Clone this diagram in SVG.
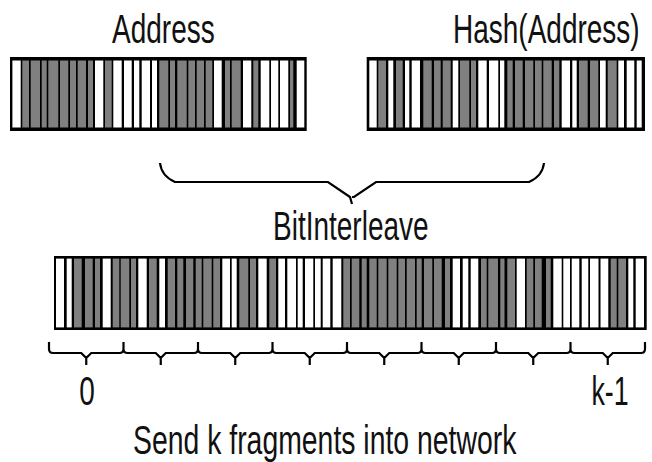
<svg xmlns="http://www.w3.org/2000/svg" width="652" height="462" viewBox="0 0 652 462">
  <style>
    .frame { fill: #000; }
    .w { fill: #fff; }
    .g { fill: #808080; }
    .lbl { font-family: "Liberation Sans", Arial, sans-serif; font-size: 40px; fill: #111; }
    .brace { fill: none; stroke: #000; stroke-width: 2.2; stroke-linejoin: miter; stroke-linecap: butt; }
  </style>
  <rect width="652" height="462" fill="#fff"/>

  <!-- source address bits -->
  <g id="address">
    <text class="lbl" transform="matrix(0.7 0 0 1 112 43)">Address</text>
    <rect class="frame" x="10" y="57" width="296.7" height="74"/>
    <g transform="translate(0,60.5)">
      <rect class="w" x="12.4" width="8.3" height="67"/>
      <rect class="g" x="22.3" width="6.7" height="67"/>
      <rect class="g" x="30.7" width="9.3" height="67"/>
      <rect class="g" x="41.7" width="5" height="67"/>
      <rect class="g" x="48.3" width="10" height="67"/>
      <rect class="g" x="60" width="8.3" height="67"/>
      <rect class="g" x="70" width="6" height="67"/>
      <rect class="g" x="77.7" width="8.3" height="67"/>
      <rect class="g" x="88" width="5" height="67"/>
      <rect class="w" x="95" width="8.3" height="67"/>
      <rect class="g" x="105" width="6.7" height="67"/>
      <rect class="w" x="113.3" width="8.4" height="67"/>
      <rect class="w" x="124" width="7.7" height="67"/>
      <rect class="w" x="134" width="5.3" height="67"/>
      <rect class="w" x="141.7" width="8.3" height="67"/>
      <rect class="w" x="152" width="5" height="67"/>
      <rect class="g" x="159.3" width="9" height="67"/>
      <rect class="g" x="170" width="5" height="67"/>
      <rect class="g" x="177.3" width="9.4" height="67"/>
      <rect class="g" x="188.3" width="6.7" height="67"/>
      <rect class="g" x="196.7" width="7.3" height="67"/>
      <rect class="g" x="205.7" width="6.6" height="67"/>
      <rect class="w" x="214" width="7.7" height="67"/>
      <rect class="g" x="225" width="5" height="67"/>
      <rect class="g" x="231.7" width="9" height="67"/>
      <rect class="w" x="243" width="8.3" height="67"/>
      <rect class="g" x="253.3" width="5" height="67"/>
      <rect class="w" x="260.7" width="8.6" height="67"/>
      <rect class="w" x="271" width="7.3" height="67"/>
      <rect class="w" x="280" width="8.3" height="67"/>
      <rect class="g" x="290" width="3.3" height="67"/>
      <rect class="w" x="296.7" width="7.6" height="67"/>
    </g>
  </g>

  <!-- hashed address bits -->
  <g id="hash">
    <text class="lbl" transform="matrix(0.7 0 0 1 453 43)">Hash(Address)</text>
    <rect class="frame" x="366.7" y="57" width="278.3" height="74"/>
    <g transform="translate(0,60.5)">
      <rect class="w" x="369.3" width="7.4" height="67"/>
      <rect class="g" x="378.3" width="7.7" height="67"/>
      <rect class="w" x="388.3" width="5" height="67"/>
      <rect class="g" x="396" width="6.7" height="67"/>
      <rect class="w" x="405" width="4.3" height="67"/>
      <rect class="w" x="411.7" width="8.3" height="67"/>
      <rect class="g" x="423.3" width="8.4" height="67"/>
      <rect class="g" x="434" width="6.7" height="67"/>
      <rect class="g" x="442.7" width="8" height="67"/>
      <rect class="w" x="452.7" width="5.6" height="67"/>
      <rect class="g" x="460" width="9.3" height="67"/>
      <rect class="g" x="471" width="5" height="67"/>
      <rect class="w" x="478.3" width="8.4" height="67"/>
      <rect class="w" x="489" width="9.3" height="67"/>
      <rect class="w" x="500" width="4.3" height="67"/>
      <rect class="g" x="507.3" width="5.4" height="67"/>
      <rect class="g" x="515" width="7.7" height="67"/>
      <rect class="g" x="525" width="8.3" height="67"/>
      <rect class="g" x="535" width="6.7" height="67"/>
      <rect class="g" x="543.3" width="8.4" height="67"/>
      <rect class="g" x="554" width="5.3" height="67"/>
      <rect class="w" x="561.7" width="8.3" height="67"/>
      <rect class="w" x="572.3" width="4.4" height="67"/>
      <rect class="g" x="579" width="8.7" height="67"/>
      <rect class="g" x="590" width="8.3" height="67"/>
      <rect class="w" x="600" width="5.7" height="67"/>
      <rect class="g" x="607.7" width="9" height="67"/>
      <rect class="w" x="618.3" width="5.7" height="67"/>
      <rect class="w" x="626.7" width="7.6" height="67"/>
      <rect class="w" x="636.7" width="5" height="67"/>
    </g>
  </g>

  <!-- interleaved bits -->
  <g id="interleaved">
    <text class="lbl" transform="matrix(0.7 0 0 1 273 240)">BitInterleave</text>
    <rect class="frame" x="54" y="256" width="592.7" height="74"/>
    <g transform="translate(0,258.6)">
      <rect class="w" x="56" width="8" height="68.8"/>
      <rect class="w" x="66.7" width="5" height="68.8"/>
      <rect class="g" x="74" width="7.7" height="68.8"/>
      <rect class="g" x="85" width="7.7" height="68.8"/>
      <rect class="g" x="95" width="5" height="68.8"/>
      <rect class="w" x="102.7" width="8" height="68.8"/>
      <rect class="g" x="112.7" width="6.6" height="68.8"/>
      <rect class="g" x="120.7" width="8.6" height="68.8"/>
      <rect class="g" x="131" width="5" height="68.8"/>
      <rect class="w" x="138.3" width="8.4" height="68.8"/>
      <rect class="g" x="149" width="7.7" height="68.8"/>
      <rect class="w" x="159.3" width="5.7" height="68.8"/>
      <rect class="g" x="167.7" width="7.3" height="68.8"/>
      <rect class="g" x="177.3" width="6" height="68.8"/>
      <rect class="g" x="186" width="7.3" height="68.8"/>
      <rect class="g" x="195.7" width="6" height="68.8"/>
      <rect class="g" x="203.3" width="8.4" height="68.8"/>
      <rect class="g" x="213.3" width="6.7" height="68.8"/>
      <rect class="w" x="222.3" width="7.7" height="68.8"/>
      <rect class="w" x="231.7" width="5" height="68.8"/>
      <rect class="g" x="239.3" width="9" height="68.8"/>
      <rect class="g" x="250" width="6" height="68.8"/>
      <rect class="w" x="258.3" width="8.4" height="68.8"/>
      <rect class="g" x="269.3" width="6.7" height="68.8"/>
      <rect class="w" x="278.3" width="6.7" height="68.8"/>
      <rect class="w" x="287.3" width="8.7" height="68.8"/>
      <rect class="w" x="297.7" width="5" height="68.8"/>
      <rect class="w" x="305" width="8.3" height="68.8"/>
      <rect class="w" x="315" width="5.7" height="68.8"/>
      <rect class="w" x="322.7" width="7.6" height="68.8"/>
      <rect class="w" x="332.7" width="8.6" height="68.8"/>
      <rect class="g" x="343.3" width="6.7" height="68.8"/>
      <rect class="g" x="351.7" width="7.6" height="68.8"/>
      <rect class="g" x="361.7" width="5" height="68.8"/>
      <rect class="g" x="369.3" width="7.4" height="68.8"/>
      <rect class="g" x="378.3" width="8.4" height="68.8"/>
      <rect class="g" x="388.3" width="8.4" height="68.8"/>
      <rect class="g" x="398.3" width="6.7" height="68.8"/>
      <rect class="g" x="406.7" width="8.3" height="68.8"/>
      <rect class="g" x="416.7" width="5" height="68.8"/>
      <rect class="g" x="424" width="8.3" height="68.8"/>
      <rect class="g" x="434" width="7.7" height="68.8"/>
      <rect class="g" x="445" width="5" height="68.8"/>
      <rect class="w" x="452.7" width="7.3" height="68.8"/>
      <rect class="w" x="462.7" width="5.6" height="68.8"/>
      <rect class="w" x="470.7" width="7.6" height="68.8"/>
      <rect class="g" x="481" width="5.7" height="68.8"/>
      <rect class="g" x="488.3" width="9.7" height="68.8"/>
      <rect class="g" x="500.3" width="4.2" height="68.8"/>
      <rect class="g" x="507.3" width="7.7" height="68.8"/>
      <rect class="w" x="516.7" width="8.3" height="68.8"/>
      <rect class="g" x="526.7" width="6.6" height="68.8"/>
      <rect class="g" x="535" width="6.7" height="68.8"/>
      <rect class="g" x="546" width="4.7" height="68.8"/>
      <rect class="w" x="553.3" width="8.4" height="68.8"/>
      <rect class="w" x="563.3" width="6.7" height="68.8"/>
      <rect class="w" x="571.7" width="7.6" height="68.8"/>
      <rect class="w" x="581.7" width="6.6" height="68.8"/>
      <rect class="w" x="590" width="8.5" height="68.8"/>
      <rect class="w" x="600.5" width="7.8" height="68.8"/>
      <rect class="g" x="610.7" width="6" height="68.8"/>
      <rect class="g" x="618.3" width="7.7" height="68.8"/>
      <rect class="w" x="628.3" width="5" height="68.8"/>
      <rect class="w" x="635.7" width="8.3" height="68.8"/>
    </g>
  </g>

  <!-- fragment labels -->
  <g id="fragments">
    <text class="lbl" transform="matrix(0.7 0 0 1 87 405)" text-anchor="middle">0</text>
    <text class="lbl" transform="matrix(0.67 0 0 1 610 405)" text-anchor="middle">k-1</text>
    <text class="lbl" transform="matrix(0.71 0 0 1 133 454)">Send k fragments into network</text>
  </g>

  <!-- braces -->
  <g id="connectors">
    <path class="brace" d="M160,163 C161,172 166,178 175,182 H328 L350,197 L352,204 M352,197 L354,197 L376,182 H529 C538,178 543,172 544,163"/>
    <path class="brace" d="
      M49,342 V349 Q49,353 53,353 H81.25 L86.25,358 V365 M86.25,358 L91.25,353 H119.5 Q123.5,353 123.5,349 V342
      M123.5,349 Q123.5,353 127.5,353 H155.75 L160.75,358 V365 M160.75,358 L165.75,353 H194 Q198,353 198,349 V342
      M198,349 Q198,353 202,353 H230.25 L235.25,358 V365 M235.25,358 L240.25,353 H268.5 Q272.5,353 272.5,349 V342
      M272.5,349 Q272.5,353 276.5,353 H304.75 L309.75,358 V365 M309.75,358 L314.75,353 H343 Q347,353 347,349 V342
      M347,349 Q347,353 351,353 H379.25 L384.25,358 V365 M384.25,358 L389.25,353 H417.5 Q421.5,353 421.5,349 V342
      M421.5,349 Q421.5,353 425.5,353 H453.75 L458.75,358 V365 M458.75,358 L463.75,353 H492 Q496,353 496,349 V342
      M496,349 Q496,353 500,353 H528.25 L533.25,358 V365 M533.25,358 L538.25,353 H566.5 Q570.5,353 570.5,349 V342
      M570.5,349 Q570.5,353 574.5,353 H602.75 L607.75,358 V365 M607.75,358 L612.75,353 H641 Q645,353 645,349 V342"/>
  </g>
</svg>
